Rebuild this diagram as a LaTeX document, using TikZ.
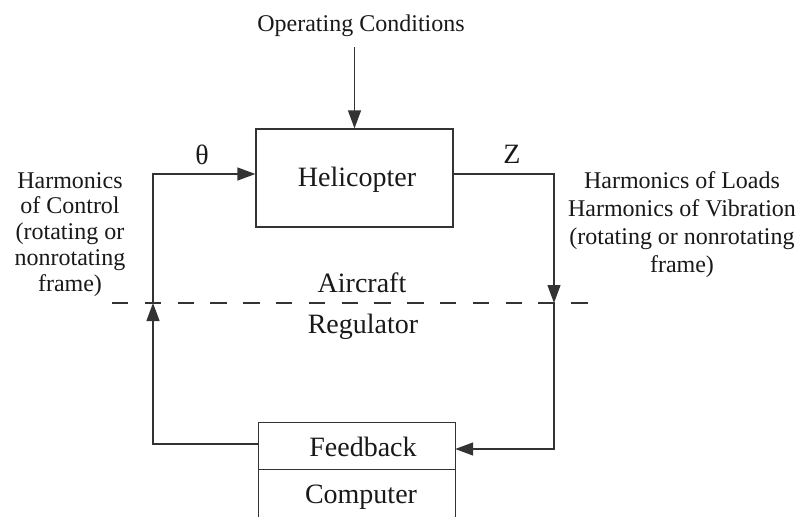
\documentclass[tikz,border=0pt]{standalone}
\usepackage{fontspec}
\setmainfont{Liberation Serif}
\usetikzlibrary{arrows.meta}
\begin{document}
\begin{tikzpicture}[x=1pt,y=-1pt,
  line/.style={line width=1.3pt, draw=black!80},
  arr/.style={line, -{Triangle[length=18pt,width=13pt]}},
  big/.style={font=\fontsize{28}{32}\selectfont, inner sep=0pt, text=black!90},
  small/.style={font=\fontsize{24}{26}\selectfont, inner sep=0pt, align=center, text=black!90},
  boxstyle/.style={line, draw, inner sep=0pt},
  dashline/.style={line, dash pattern=on 16.4pt off 16.4pt},
]
\useasboundingbox[fill=white] (0,0) rectangle (798,517);

% blocks
\node[boxstyle, minimum width=197pt, minimum height=98pt] (heli) at (354.5,178) {};
\node[big, anchor=base] (helit) at (357,186) {Helicopter};

\node[inner sep=0pt, minimum width=196pt, minimum height=46pt] (fb) at (357,446) {};
\node[big, anchor=base] (fbt) at (363,456) {Feedback};
\node[big, anchor=base] (comp) at (361,503) {Computer};
\coordinate (bot) at (0,517);
\draw[line] (fb.west |- bot) -- (fb.north west) -- (fb.north east) -- (fb.east |- bot);
\draw[line] (fb.south west) -- (fb.south east);

% labels
\node[small, anchor=base] (ops) at (361,31) {Operating Conditions};
\node[big, anchor=base] (theta) at (202,164) {θ};
\node[big, anchor=base] (z) at (512,163) {Z};
\node[big, anchor=base] (air) at (362,292) {Aircraft};
\node[big, anchor=base] (reg) at (363,333) {Regulator};
\node[small, font=\fontsize{24}{25.8}\selectfont, anchor=north] (lefttxt) at (70,172) {Harmonics\\of Control\\(rotating or\\nonrotating\\frame)};
\node[small, font=\fontsize{24}{28}\selectfont, anchor=north] (righttxt) at (682,171) {Harmonics of Loads\\Harmonics of Vibration\\(rotating or nonrotating\\frame)};

% dashed boundary
\coordinate (dL) at (112,303);
\coordinate (dR) at (590,303);
\draw[dashline] (dL) -- (dR);

% connectors
\coordinate (opsarr) at (355,47);
\draw[arr] (heli.north |- opsarr) -- (heli.north);

\coordinate (lx) at (153,0);
\coordinate (rx) at (554,0);
\draw[arr] ([yshift=2pt]fb.west) -| (lx |- dL);
\draw[arr] (lx |- dL) |- ([yshift=4pt]heli.west);
\draw[arr] ([yshift=4pt]heli.east) -| (rx |- dL);
\draw[arr] (rx |- dL) |- ([yshift=-3pt]fb.east);
\end{tikzpicture}
\end{document}
